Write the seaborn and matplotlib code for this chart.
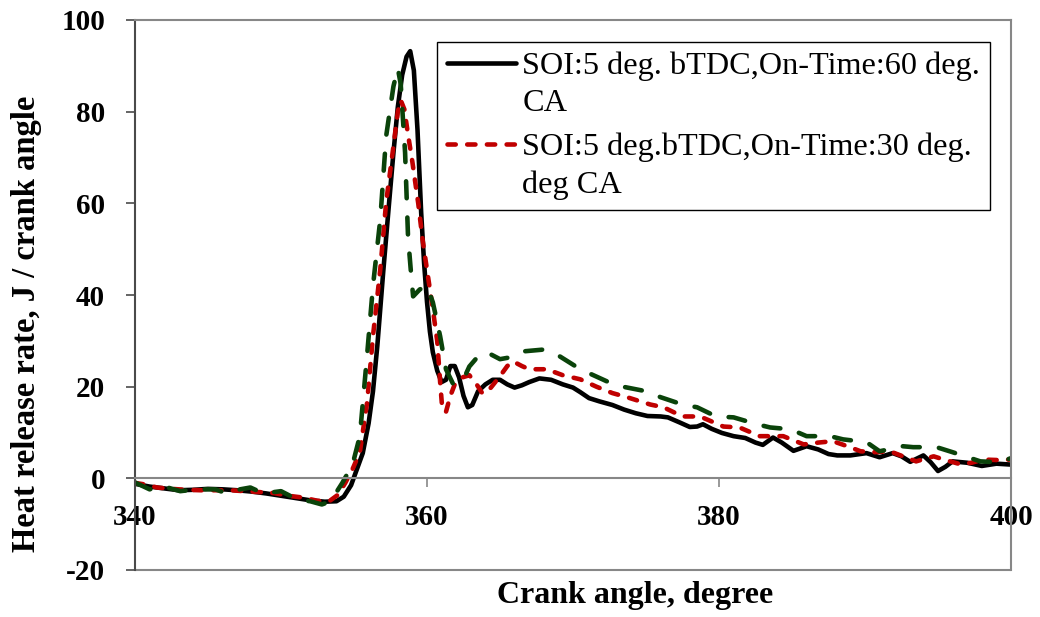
import numpy as np
import matplotlib
matplotlib.use("Agg")
import matplotlib.pyplot as plt
import seaborn as sns
from matplotlib.legend_handler import HandlerLine2D
from matplotlib.font_manager import FontProperties

# ---------------- data ----------------
crank_60 = [340, 341, 342, 343, 344, 345, 346, 347, 348, 349, 350, 351, 352, 353,
            353.8, 354.3, 354.8, 355.2, 355.6, 356.0, 356.3, 356.6, 357.0, 357.4,
            357.7, 358.0, 358.3, 358.6, 358.85, 359.1, 359.35, 359.6, 359.8, 360.0,
            360.2, 360.4, 360.7, 361.0, 361.3, 361.6, 361.9, 362.2, 362.5, 362.8,
            363.1, 363.5, 364.0, 364.5, 365.0, 365.5, 366.0, 366.5, 367.0, 367.7,
            368.5, 369.3, 370.0, 370.5, 371.1, 371.8, 372.7, 373.5, 374.3, 375.1,
            376.0, 376.5, 377.3, 378.0, 378.5, 378.9, 379.5, 380.2, 381.0, 381.8,
            382.5, 383.0, 383.7, 384.3, 385.1, 386.0, 386.8, 387.5, 388.1, 389.0,
            390.1, 391.0, 391.9, 392.5, 393.1, 394.0, 394.5, 395.0, 395.5, 396.0,
            397.0, 398.0, 399.0, 400.0]
hrr_60 = [-1.2, -1.8, -2.2, -2.6, -2.5, -2.3, -2.4, -2.6, -2.9, -3.3, -3.8, -4.3, -4.8, -5.1,
          -5.0, -4.0, -1.5, 2.0, 5.5, 12.0, 19.0, 29.0, 45.0, 60.0,
          71.0, 81.0, 88.0, 92.0, 93.2, 89.0, 76.0, 58.0, 47.0, 38.5,
          32.0, 27.5, 23.5, 21.0, 21.5, 24.5, 24.5, 22.0, 18.0, 15.5,
          16.0, 19.0, 20.5, 21.5, 21.5, 20.5, 19.8, 20.3, 21.0, 21.8,
          21.5, 20.5, 19.8, 18.8, 17.5, 16.8, 16.0, 15.0, 14.2, 13.6,
          13.5, 13.3, 12.2, 11.2, 11.3, 11.8, 10.8, 9.9, 9.2, 8.8,
          7.8, 7.3, 8.9, 7.8, 6.0, 7.0, 6.3, 5.3, 5.0, 5.0,
          5.5, 4.6, 5.5, 4.8, 3.6, 5.0, 3.5, 1.6, 2.5, 3.7,
          3.4, 2.7, 3.2, 3.0]

crank_30 = [340, 340.8, 341.5, 342.5, 343.5, 344.5, 345.5, 346.5, 347.5, 348.5, 349.5,
            350.5, 351.5, 352.5, 353.3, 353.9, 354.4, 354.9, 355.4, 355.9, 356.3,
            356.8, 357.2, 357.7, 358.0, 358.2, 358.45, 358.7, 359.0, 359.4, 359.7,
            360.0, 360.35, 360.7, 360.9, 361.05, 361.3, 361.6, 361.9, 362.4, 362.9,
            363.4, 363.8, 364.3, 365.0, 365.5, 365.9, 366.5, 367.0, 368.2, 369.3,
            370.5, 371.6, 372.7, 373.7, 375.3, 376.2, 377.5, 378.7, 379.5, 380.3,
            381.4, 382.8, 384.4, 385.8, 386.8, 387.8, 388.8, 389.7, 390.7, 391.7,
            392.6, 393.5, 394.7, 395.5, 396.5, 397.3, 398.1, 399.0, 400.0]
hrr_30 = [-1.0, -1.4, -2.0, -2.3, -2.5, -2.6, -2.6, -2.6, -2.8, -3.0, -3.2,
          -3.8, -4.2, -4.9, -5.0, -3.6, -1.0, 2.0, 5.7, 16.6, 31.0,
          45.6, 60.2, 72.4, 80.0, 82.5, 80.5, 75.0, 69.0, 60.0, 52.0,
          45.5, 38.0, 30.0, 21.0, 15.0, 14.5, 18.0, 20.5, 22.0, 22.5,
          20.5, 18.5, 19.5, 22.3, 24.5, 25.5, 24.5, 23.8, 23.8, 22.5,
          21.6, 20.0, 18.6, 17.7, 16.1, 15.5, 13.5, 13.5, 12.4, 11.3,
          11.1, 9.2, 9.2, 7.4, 7.8, 8.1, 7.0, 5.9, 5.7, 5.9,
          4.8, 3.7, 4.8, 4.0, 3.1, 3.4, 4.1, 4.0, 4.1]

crank_g = [340, 341, 341.9, 343.1, 344.2, 345.5, 346.3, 347.2, 347.9, 348.8, 350,
           351.1, 352, 352.8, 353.4, 354.2, 354.9, 355.4, 355.9, 356.3, 356.8,
           357.2, 357.7, 358.0, 358.2, 358.5, 358.7, 358.9, 359.05, 359.5, 360.0,
           360.4, 360.9, 361.3, 361.8, 362.5, 362.9, 363.6, 364.1, 365.0, 365.7,
           366.6, 368.0, 369.1, 370.5, 372.5, 373.4, 375.0, 376.0, 377.5, 378.5,
           379.8, 381.0, 382.6, 383.5, 384.9, 386.0, 387.6, 388.5, 390.1, 391.0,
           392.6, 393.3, 394.9, 396.0, 397.9, 399.2, 400.0]
hrr_g = [-0.9, -2.4, -1.7, -2.8, -2.4, -2.4, -3.3, -2.4, -2.0, -3.3, -2.8,
         -4.6, -5.0, -5.7, -5.0, -1.0, 3.0, 9.2, 27.0, 42.0, 56.5,
         74.6, 85.5, 89.5, 86.0, 71.0, 52.8, 45.0, 39.7, 41.2, 42.0,
         38.4, 31.0, 23.8, 20.5, 21.6, 24.4, 27.0, 27.5, 26.0, 26.4,
         27.7, 28.1, 26.6, 23.8, 20.9, 20.0, 19.0, 17.7, 16.1, 15.5,
         13.5, 13.3, 11.8, 11.1, 10.7, 9.2, 9.2, 8.5, 7.9, 5.9,
         7.0, 6.8, 6.8, 5.7, 3.7, 3.5, 4.4]

x_ticks = [340, 360, 380, 400]
y_ticks = [-20, 0, 20, 40, 60, 80, 100]
legend_labels = ["SOI:5 deg. bTDC,On-Time:60 deg.\nCA",
                 "SOI:5 deg.bTDC,On-Time:30 deg.\ndeg CA"]
x_label = "Crank angle, degree"
y_label = "Heat release rate, J / crank angle"

# ---------------- style ----------------
sns.set_theme(style="ticks")
plt.rcParams["font.family"] = ["Liberation Serif", "DejaVu Serif"]
plt.rcParams["text.color"] = "black"
plt.rcParams["axes.labelcolor"] = "black"

DPI = 100
GRAY = "#878787"
DARK = "#4a4a4a"
BLACK = "#000000"
RED = "#C00000"
GREEN = "#0A430A"
TICK_FS = 21
XLAB_FS = 23
YLAB_FS = 23.5
LEG_FS = 23.2
LW = 3.3

fig = plt.figure(figsize=(10.4, 6.17), dpi=DPI)
fig.patch.set_facecolor("white")
W, H = 1040, 617
ax = fig.add_axes([135 / W, (H - 570) / H, 876 / W, 550 / H])
ax.set_facecolor("white")

sns.lineplot(x=crank_60, y=hrr_60, ax=ax, color=BLACK, linewidth=LW,
             estimator=None, sort=False)
sns.lineplot(x=crank_30, y=hrr_30, ax=ax, color=RED, linewidth=LW,
             estimator=None, sort=False)
sns.lineplot(x=crank_g, y=hrr_g, ax=ax, color=GREEN, linewidth=LW,
             estimator=None, sort=False)

l_black, l_red, l_green = ax.lines[0], ax.lines[1], ax.lines[2]
for ln in (l_black, l_red, l_green):
    ln.set_solid_joinstyle("round")
    ln.set_solid_capstyle("round")
l_red.set_dashes((1.8, 2.5))
l_red.set_dash_capstyle("round")
l_green.set_dashes((3.7, 4.2))
l_green.set_dash_capstyle("round")

# spines / frame (positioned before ticks, because moving resets ticks)
ax.spines["bottom"].set_position(("data", 0))
ax.spines["bottom"].set_color(GRAY)
ax.spines["bottom"].set_linewidth(1.5)
ax.spines["left"].set_color(DARK)
ax.spines["left"].set_linewidth(1.5)
for s in ("top", "right"):
    ax.spines[s].set_visible(True)
    ax.spines[s].set_color(GRAY)
    ax.spines[s].set_linewidth(1.5)
ax.axhline(-20, color=GRAY, linewidth=1.5, clip_on=False, zorder=0.5)

ax.set_xlim(340, 400)
ax.set_ylim(-20, 100)
ax.set_xticks(x_ticks, labels=[str(v) for v in x_ticks], fontsize=TICK_FS,
              fontweight="bold")
ax.set_yticks(y_ticks, labels=[str(v) for v in y_ticks], fontsize=TICK_FS,
              fontweight="bold")

ax.tick_params(axis="x", direction="out", length=6.5, width=1.2, color=GRAY,
               pad=12, bottom=True, labelcolor="black")
ax.tick_params(axis="y", direction="out", length=6.5, width=1.2, color=DARK,
               pad=15, left=True, labelcolor="black")

ax.set_xlabel(x_label, fontsize=XLAB_FS, fontweight="bold", color="black")
ax.set_ylabel(y_label, fontsize=YLAB_FS, fontweight="bold", color="black")
ax.xaxis.set_label_coords((635 - 135) / 876, (570 - 581) / 550)
ax.yaxis.set_label_coords((42 - 135) / 876, (570 - 324) / 550)

# ---------------- legend ----------------
fig.canvas.draw()
renderer = fig.canvas.get_renderer()
fp = FontProperties(family=["Liberation Serif"], size=LEG_FS)
_, lp_h, lp_d = renderer.get_text_width_height_descent("lp", fp, ismath=False)
step_px = 37.0                      # baseline-to-baseline distance in the reference
leg_ls = (step_px - lp_d) / (lp_h - lp_d)
shift_pt = 0.5 * (step_px + lp_d) * 72.0 / DPI   # move handle to first line


class FirstLineHandler(HandlerLine2D):
    def __init__(self, shift, **kw):
        super().__init__(**kw)
        self.shift = shift

    def create_artists(self, legend, orig_handle, xdescent, ydescent, width,
                       height, fontsize, trans):
        arts = super().create_artists(legend, orig_handle, xdescent, ydescent,
                                      width, height, fontsize, trans)
        for a in arts:
            if hasattr(a, "get_ydata"):
                a.set_ydata(np.asarray(a.get_ydata(), dtype=float) + self.shift)
        return arts


hmap = {l_black: FirstLineHandler(shift_pt), l_red: FirstLineHandler(shift_pt)}
leg = ax.legend([l_black, l_red], legend_labels, handler_map=hmap,
                loc="upper left",
                bbox_to_anchor=((437 - 135) / 876, (570 - 42) / 550),
                borderaxespad=0, fontsize=LEG_FS, frameon=True, fancybox=False,
                framealpha=1, edgecolor="black", handlelength=2.15,
                handletextpad=0.2, borderpad=0.3, labelspacing=0.45)
leg.get_frame().set_linewidth(1.0)
for t in leg.get_texts():
    t.set_linespacing(leg_ls)
    t.set_color("black")

fig.savefig("out.png", dpi=DPI, facecolor="white")
